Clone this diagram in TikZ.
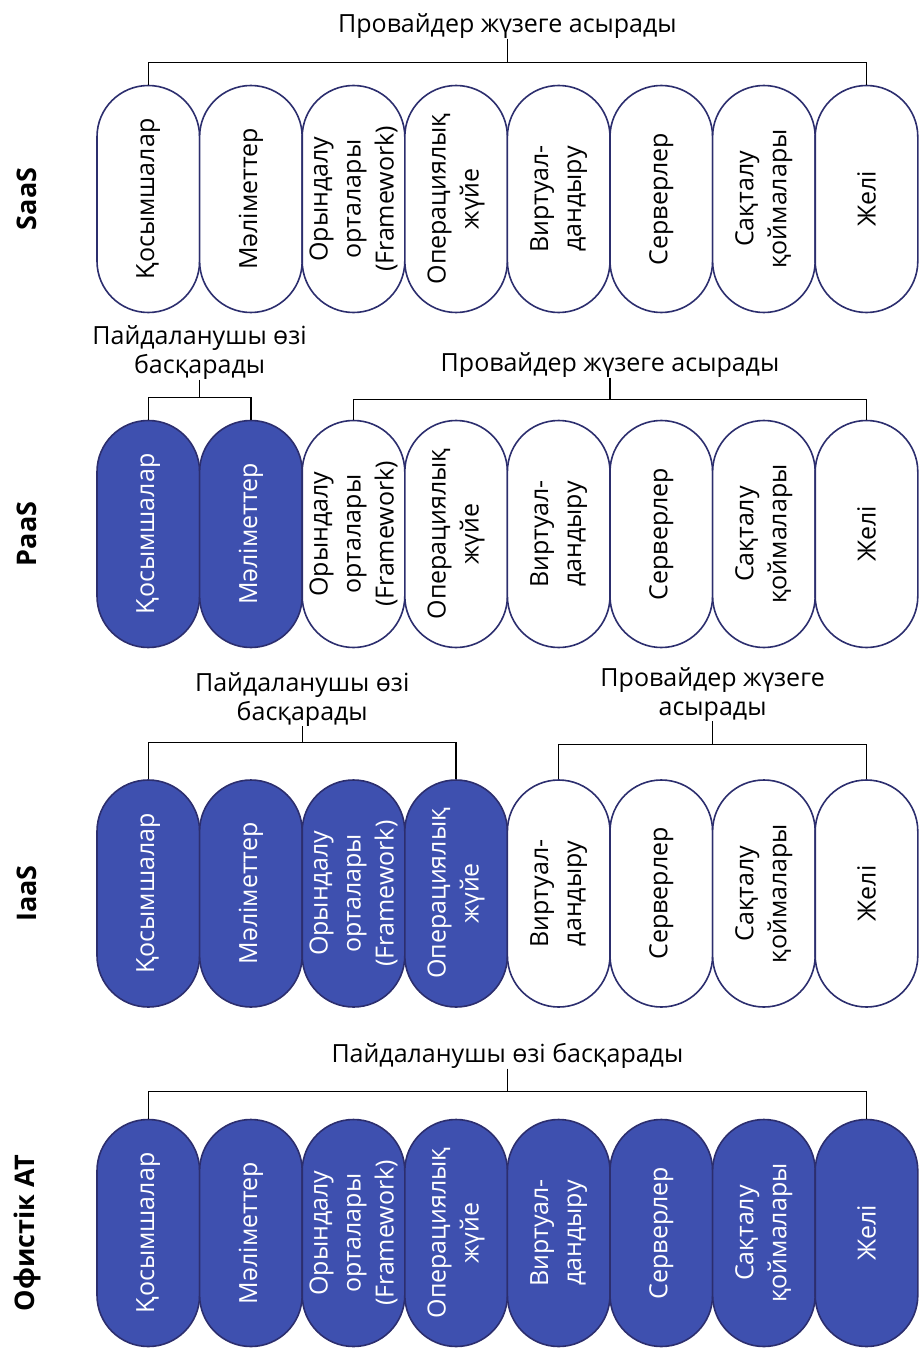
\documentclass[tikz,border=0pt]{standalone}
\usepackage{fontspec}
\setmainfont{Open Sans}
\usetikzlibrary{shapes.misc,calc}

\definecolor{userblue}{RGB}{62,80,175}
\definecolor{pillline}{RGB}{44,46,110}

\tikzset{
	pill/.style={rounded rectangle, rotate=90, draw=pillline, line width=1.6pt,
		minimum width=227pt, minimum height=102.6pt, inner sep=0pt,
		align=center, font=\fontsize{25}{33}\selectfont},
	bracket/.style={line width=1.4pt},
	head/.style={align=center, inner sep=0pt, font=\fontsize{25}{29}\selectfont},
	rowname/.style={rotate=90, font=\fontsize{27}{30}\selectfont\bfseries}
}

\def\layers{Қосымшалар, Мәліметтер, {Орындалу\\орталары\\(Framework)}, {Операциялық\\жүйе},
	{Виртуал-\\дандыру}, Серверлер, {Сақталу\\қоймалары}, Желі}

\begin{document}
\begin{tikzpicture}[x=1pt, y=-1pt]
	\useasboundingbox (0,0) rectangle (918,1351);

	% SaaS
	\node[rowname] (saas) at (27,199) {SaaS};
	\foreach \t [count=\i] in \layers
		\node[pill, fill=white] (saas\i) at ({148.3+(\i-1)*102.6},199) {\t};
	\draw[bracket] (saas1.east) -- ++(0,-22) coordinate (saasbar) -| (saas8.east);
	\node[head, anchor=south] (saasprov) at ($(saas1.east)!0.5!(saas8.east)+(0,-46)$) {Провайдер жүзеге асырады};
	\draw[bracket] (saasprov.south) -- (saasprov.south |- saasbar);

	% PaaS
	\node[rowname] (paas) at (27,534) {PaaS};
	\foreach \t [count=\i] in \layers {
		\ifnum\i>2 \def\fc{white}\def\tc{black}\else\def\fc{userblue}\def\tc{white}\fi
		\node[pill, fill=\fc, text=\tc] (paas\i) at ({148.3+(\i-1)*102.6},534) {\t};
	}
	\draw[bracket] (paas1.east) -- ++(0,-22) coordinate (paasbar1) -| (paas2.east);
	\node[head, anchor=south] (paasuser) at ($(paas1.east)!0.5!(paas2.east)+(0,-40)$) {Пайдаланушы өзі\\басқарады};
	\draw[bracket] (paasuser.south) -- (paasuser.south |- paasbar1);
	\draw[bracket] (paas3.east) -- ++(0,-20) coordinate (paasbar2) -| (paas8.east);
	\node[head, anchor=south] (paasprov) at ($(paas3.east)!0.5!(paas8.east)+(0,-42)$) {Провайдер жүзеге асырады};
	\draw[bracket] (paasprov.south) -- (paasprov.south |- paasbar2);

	% IaaS
	\node[rowname] (iaas) at (27,893.5) {IaaS};
	\foreach \t [count=\i] in \layers {
		\ifnum\i>4 \def\fc{white}\def\tc{black}\else\def\fc{userblue}\def\tc{white}\fi
		\node[pill, fill=\fc, text=\tc] (iaas\i) at ({148.3+(\i-1)*102.6},893.5) {\t};
	}
	\draw[bracket] (iaas1.east) -- ++(0,-37) coordinate (iaasbar1) -| (iaas4.east);
	\node[head, anchor=south] (iaasuser) at ($(iaas1.east)!0.5!(iaas4.east)+(0,-53)$) {Пайдаланушы өзі\\басқарады};
	\draw[bracket] (iaasuser.south) -- (iaasuser.south |- iaasbar1);
	\draw[bracket] (iaas5.east) -- ++(0,-35) coordinate (iaasbar2) -| (iaas8.east);
	\node[head, anchor=south] (iaasprov) at ($(iaas5.east)!0.5!(iaas8.east)+(0,-58)$) {Провайдер жүзеге\\асырады};
	\draw[bracket] (iaasprov.south) -- (iaasprov.south |- iaasbar2);

	% Офистік АТ
	\node[rowname] (ofis) at (27,1233) {Офистік АТ};
	\foreach \t [count=\i] in \layers
		\node[pill, fill=userblue, text=white] (ofis\i) at ({148.3+(\i-1)*102.6},1233) {\t};
	\draw[bracket] (ofis1.east) -- ++(0,-27) coordinate (ofisbar) -| (ofis8.east);
	\node[head, anchor=south] (ofisuser) at ($(ofis1.east)!0.5!(ofis8.east)+(0,-50)$) {Пайдаланушы өзі басқарады};
	\draw[bracket] (ofisuser.south) -- (ofisuser.south |- ofisbar);
\end{tikzpicture}
\end{document}
